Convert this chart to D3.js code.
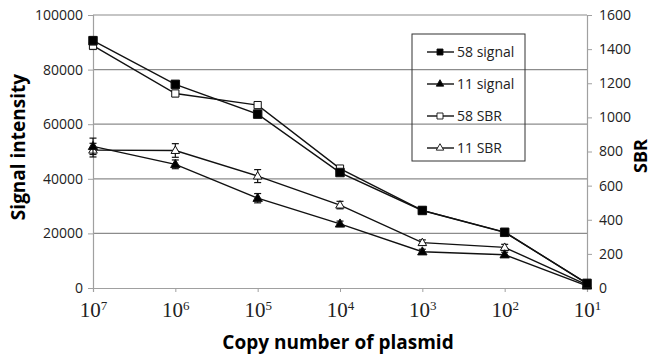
<!DOCTYPE html>
<html>
<head>
<meta charset="utf-8">
<script src="https://cdn.jsdelivr.net/npm/d3@7"></script>
<style>
  body { margin: 0; background: #fff; }
  svg { display: block; }
</style>
</head>
<body>
<div id="chart"></div>
<script>
// copy number exponents (10^7 ... 10^1)
const exponents = ["7", "6", "5", "4", "3", "2", "1"];
const leftTicks = [0, 20000, 40000, 60000, 80000, 100000];
const rightTicks = [0, 200, 400, 600, 800, 1000, 1200, 1400, 1600];

// signal intensity (left axis)
const signal58 = [90600, 74600, 63700, 42300, 28400, 20400, 1700];
const signal58Err = [1500, 1200, 1300, 900, 600, 500, 300];
const signal11 = [51900, 45300, 32900, 23500, 13300, 12200, 800];
const signal11Err = [3000, 1600, 1700, 1000, 900, 900, 200];

// SBR (right axis)
const sbr58 = [1420, 1140, 1072, 700, 455, 328, 26];
const sbr58Err = [22, 18, 18, 12, 8, 7, 3];
const sbr11 = [808, 806, 656, 486, 266, 238, 18];
const sbr11Err = [40, 40, 38, 22, 16, 18, 3];

const W = 654, H = 356;
const plot = { left: 93, right: 587, top: 15, bottom: 288 };

const svg = d3.select("#chart").append("svg")
  .attr("width", W).attr("height", H);

const x = d3.scalePoint().domain(exponents).range([plot.left, plot.right]).padding(0);
const yL = d3.scaleLinear().domain([0, 100000]).range([plot.bottom, plot.top]);
const yR = d3.scaleLinear().domain([0, 1600]).range([plot.bottom, plot.top]);

const tickFont = "'Open Sans', 'Noto Sans', sans-serif";

// gridlines
svg.append("g").selectAll("line")
  .data(leftTicks.filter(d => d > 0))
  .join("line")
  .attr("x1", plot.left).attr("x2", plot.right)
  .attr("y1", d => yL(d)).attr("y2", d => yL(d))
  .attr("stroke", "#8c8c8c").attr("stroke-width", 1.2);

// left axis
const gL = svg.append("g")
  .attr("transform", `translate(${plot.left},0)`)
  .call(d3.axisLeft(yL).tickValues(leftTicks).tickSize(5).tickPadding(5).tickFormat(d3.format("d")));
gL.select(".domain").attr("stroke", "#a0a0a0").attr("stroke-width", 1.2);
gL.selectAll(".tick line").attr("stroke", "#a0a0a0");
gL.selectAll("text").attr("font-family", tickFont).attr("font-size", 14).attr("fill", "#222");

// right axis
const gR = svg.append("g")
  .attr("transform", `translate(${plot.right},0)`)
  .call(d3.axisRight(yR).tickValues(rightTicks).tickSize(5).tickPadding(7).tickFormat(d3.format("d")));
gR.select(".domain").attr("stroke", "#a0a0a0").attr("stroke-width", 1.2);
gR.selectAll(".tick line").attr("stroke", "#a0a0a0");
gR.selectAll("text").attr("font-family", tickFont).attr("font-size", 14).attr("fill", "#222");

// bottom axis
const gB = svg.append("g")
  .attr("transform", `translate(0,${plot.bottom})`)
  .call(d3.axisBottom(x).tickSize(4).tickFormat(""));
gB.select(".domain").attr("stroke", "#a0a0a0").attr("stroke-width", 1.2);
gB.selectAll(".tick line").attr("stroke", "#a0a0a0");
gB.selectAll(".tick").append("text")
  .attr("y", 29)
  .attr("text-anchor", "middle")
  .attr("fill", "#222")
  .attr("font-family", "'Liberation Serif', 'DejaVu Serif', serif")
  .attr("font-size", 21)
  .each(function(d) {
    const t = d3.select(this);
    t.append("tspan").text("10");
    t.append("tspan").attr("dy", -7).attr("font-size", 13).text(d);
  });

// series
const series = [
  { name: "58 signal", vals: signal58, err: signal58Err, y: yL, shape: "square", fill: "#000" },
  { name: "11 signal", vals: signal11, err: signal11Err, y: yL, shape: "triangle", fill: "#000" },
  { name: "58 SBR", vals: sbr58, err: sbr58Err, y: yR, shape: "square", fill: "#fff" },
  { name: "11 SBR", vals: sbr11, err: sbr11Err, y: yR, shape: "triangle", fill: "#fff" }
];

const symbolPath = (shape, size) =>
  d3.symbol().type(shape === "square" ? d3.symbolSquare : d3.symbolTriangle).size(size)();
const markerSize = s => s.shape === "square" ? (s.fill === "#000" ? 72 : 52) : (s.fill === "#000" ? 38 : 32);

// lines first
series.forEach(s => {
  svg.append("path")
    .datum(s.vals)
    .attr("fill", "none")
    .attr("stroke", "#111")
    .attr("stroke-width", 1.4)
    .attr("d", d3.line().x((d, i) => x(exponents[i])).y(d => s.y(d)));
});

// error bars and markers (SBR under signal, as in the original)
[series[3], series[2], series[1], series[0]].forEach(s => {
  const g = svg.append("g");
  s.vals.forEach((v, i) => {
    const cx = x(exponents[i]);
    const y1 = s.y(v - s.err[i]), y2 = s.y(v + s.err[i]);
    g.append("line").attr("x1", cx).attr("x2", cx).attr("y1", y1).attr("y2", y2)
      .attr("stroke", "#111").attr("stroke-width", 1.2);
    [y1, y2].forEach(yy => g.append("line")
      .attr("x1", cx - 3.5).attr("x2", cx + 3.5).attr("y1", yy).attr("y2", yy)
      .attr("stroke", "#111").attr("stroke-width", 1.2));
  });
  g.selectAll("path")
    .data(s.vals)
    .join("path")
    .attr("transform", (d, i) => `translate(${x(exponents[i])},${s.y(d) + (s.shape === "triangle" ? 0.5 : 0)})`)
    .attr("d", symbolPath(s.shape, markerSize(s)))
    .attr("fill", s.fill)
    .attr("stroke", "#111")
    .attr("stroke-width", 1);
});

// legend
const lg = svg.append("g");
lg.append("rect")
  .attr("x", 412).attr("y", 34).attr("width", 113).attr("height", 127)
  .attr("fill", "none").attr("stroke", "#333").attr("stroke-width", 1);
const legendY = d3.scalePoint().domain(series.map(s => s.name)).range([52, 148]);
series.forEach(s => {
  const yy = legendY(s.name);
  lg.append("line").attr("x1", 427).attr("x2", 454).attr("y1", yy).attr("y2", yy)
    .attr("stroke", "#111").attr("stroke-width", 1.4);
  lg.append("path")
    .attr("transform", `translate(440,${yy})`)
    .attr("d", symbolPath(s.shape, s.shape === "square" ? 36 : 24))
    .attr("fill", s.fill).attr("stroke", "#111").attr("stroke-width", 0.9);
  lg.append("text")
    .attr("x", 457).attr("y", yy + 5)
    .attr("font-family", tickFont).attr("font-size", 14).attr("fill", "#222")
    .text(s.name);
});

// axis titles
const titleFont = "'Open Sans', 'Noto Sans', sans-serif";
svg.append("text")
  .attr("transform", `translate(25,147) rotate(-90)`)
  .attr("text-anchor", "middle")
  .attr("font-family", titleFont).attr("font-weight", "bold").attr("font-size", 19)
  .text("Signal intensity");
svg.append("text")
  .attr("transform", `translate(647,156) rotate(-90)`)
  .attr("text-anchor", "middle")
  .attr("font-family", titleFont).attr("font-weight", "bold").attr("font-size", 18)
  .text("SBR");
svg.append("text")
  .attr("x", 338).attr("y", 349)
  .attr("text-anchor", "middle")
  .attr("font-family", titleFont).attr("font-weight", "bold").attr("font-size", 19)
  .text("Copy number of plasmid");
</script>
</body>
</html>
